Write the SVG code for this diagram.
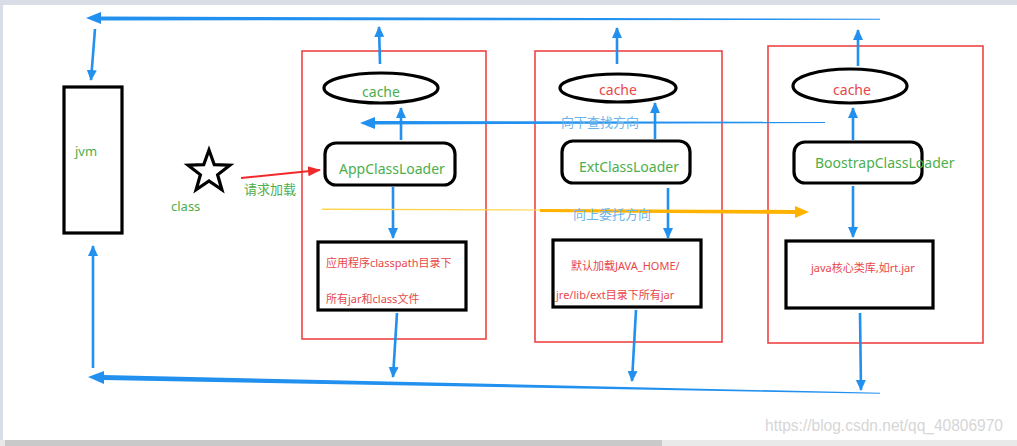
<svg xmlns="http://www.w3.org/2000/svg" width="1017" height="446" viewBox="0 0 1017 446">
<style>
.frame{fill:#d9dee6}
.redbox{fill:none;stroke:#ee4444;stroke-width:1.6}
.blk{fill:none;stroke:#000;stroke-width:3.2}
.t{font-family:"Noto Sans","Noto Sans CJK SC",sans-serif}
.g{fill:#4cae4c}
.r{fill:#e8474a}
.lb{fill:#6cb4ec}
.blue{fill:none;stroke:#2190ee;stroke-width:2.6}
.bluef{fill:#2190ee}
</style>
<defs>
<marker id="ah" markerUnits="userSpaceOnUse" markerWidth="12" markerHeight="12" refX="10" refY="6" orient="auto">
<path d="M0,1 L11,6 L0,11 z" fill="#2190ee"/>
</marker>
<marker id="ahr" markerUnits="userSpaceOnUse" markerWidth="14" markerHeight="12" refX="12" refY="6" orient="auto">
<path d="M0,1 L13,6 L0,11 z" fill="#f02a2a"/>
</marker>
</defs>
<rect width="1017" height="446" fill="#fff"/>
<rect class="frame" x="0" y="0" width="1017" height="5"/>
<rect class="frame" x="0" y="0" width="3" height="446"/>
<rect x="0" y="440" width="1017" height="6" fill="#e9e9e9"/>
<rect x="5" y="440" width="657" height="6" fill="#c9c9c9"/>

<g id="jvm">
<rect class="blk" x="64" y="87" width="58" height="146"/>
<text class="t g" x="75" y="156" font-size="13">jvm</text>
</g>

<g id="class">
<polygon points="209,150 214.3,164.7 229.9,165.2 217.6,174.8 221.9,189.8 209,181 196.1,189.8 200.4,174.8 188.1,165.2 203.7,164.7" fill="none" stroke="#000" stroke-width="3.2" stroke-linejoin="miter"/>
<text class="t g" x="171" y="211" font-size="13">class</text>
</g>

<g id="app">
<rect class="redbox" x="302" y="51" width="184" height="288"/>
<ellipse class="blk" cx="381" cy="88" rx="57" ry="15"/>
<text class="t g" x="381" y="97" font-size="14" text-anchor="middle">cache</text>
<rect class="blk" x="325" y="143" width="130" height="42" rx="11"/>
<text class="t g" x="339" y="174" font-size="14">AppClassLoader</text>
<rect class="blk" x="318" y="242" width="148" height="68"/>
<text class="t r" x="326" y="267" font-size="11">应用程序classpath目录下</text>
<text class="t r" x="326" y="303" font-size="11">所有jar和class文件</text>
</g>

<g id="ext">
<rect class="redbox" x="535" y="51" width="187" height="291"/>
<ellipse class="blk" cx="618" cy="88" rx="58" ry="14"/>
<text class="t r" x="618" y="95" font-size="14" text-anchor="middle">cache</text>
<rect class="blk" x="562" y="141" width="128" height="42" rx="11"/>
<text class="t g" x="579" y="172" font-size="14">ExtClassLoader</text>
<rect class="blk" x="553" y="240" width="148" height="67"/>
<text class="t r" x="571" y="270" font-size="11">默认加载JAVA_HOME/</text>
<text class="t r" x="556" y="299" font-size="11">jre/lib/ext目录下所有jar</text>
</g>

<g id="boot">
<rect class="redbox" x="768" y="46" width="215" height="297"/>
<ellipse class="blk" cx="850" cy="86" rx="57" ry="17"/>
<text class="t r" x="852" y="95" font-size="14" text-anchor="middle">cache</text>
<rect class="blk" x="794" y="142" width="128" height="41" rx="11"/>
<text class="t g" x="815" y="168" font-size="14">BoostrapClassLoader</text>
<rect class="blk" x="786" y="241" width="147" height="67"/>
<text class="t r" x="811" y="272" font-size="11">java核心类库,如rt.jar</text>
</g>

<g id="connectors">
<polygon class="bluef" points="100,16.5 880,18.8 880,19.8 100,20.5"/>
<polygon class="bluef" points="101,12 86,18 101,24"/>
<path class="blue" d="M95,29 L91,80" marker-end="url(#ah)"/>
<polygon class="bluef" points="103,375 880,392.8 880,393.8 103,380"/>
<polygon class="bluef" points="104,371 88,377 104,384"/>
<path class="blue" d="M93,368 L93,246" marker-end="url(#ah)"/>

<path class="blue" d="M380,64 L379,27" marker-end="url(#ah)"/>
<path class="blue" d="M617,64 L617,28" marker-end="url(#ah)"/>
<path class="blue" d="M858,66 L858,30" marker-end="url(#ah)"/>

<path class="blue" d="M401,140 L401,108" marker-end="url(#ah)"/>
<path class="blue" d="M655,139 L655,103" marker-end="url(#ah)"/>
<path class="blue" d="M853,140 L853,108" marker-end="url(#ah)"/>

<path class="blue" d="M393,187 L393,238" marker-end="url(#ah)"/>
<path class="blue" d="M668,188 L668,238" marker-end="url(#ah)"/>
<path class="blue" d="M853,186 L853,237" marker-end="url(#ah)"/>

<path class="blue" d="M397,313 L393,377" marker-end="url(#ah)"/>
<path class="blue" d="M636,310 L632,381" marker-end="url(#ah)"/>
<path class="blue" d="M860,313 L861,390" marker-end="url(#ah)"/>

<polygon class="bluef" points="374,121 825,121.8 825,123 374,124.5"/>
<polygon class="bluef" points="375,117 360,123 375,129"/>
<text class="t lb" x="561" y="127" font-size="13">向下查找方向</text>

<polygon fill="#ffd54f" points="322,208.5 540,209.5 540,210.5 322,210"/>
<polygon fill="#ffb300" points="540,209 795,210 795,214 540,212"/>
<polygon fill="#ffb300" points="795,206 809,212 795,218"/>
<text class="t lb" x="573" y="219" font-size="13">向上委托方向</text>

<path d="M241,178 L320,170" fill="none" stroke="#f02a2a" stroke-width="2" marker-end="url(#ahr)"/>
<text class="t g" x="244" y="194" font-size="13">请求加载</text>
</g>

<text x="765" y="431" font-family="Liberation Sans, Arial, sans-serif" font-size="16" fill="#d6d6d6" textLength="238" lengthAdjust="spacingAndGlyphs">https://blog.csdn.net/qq_40806970</text>
</svg>
